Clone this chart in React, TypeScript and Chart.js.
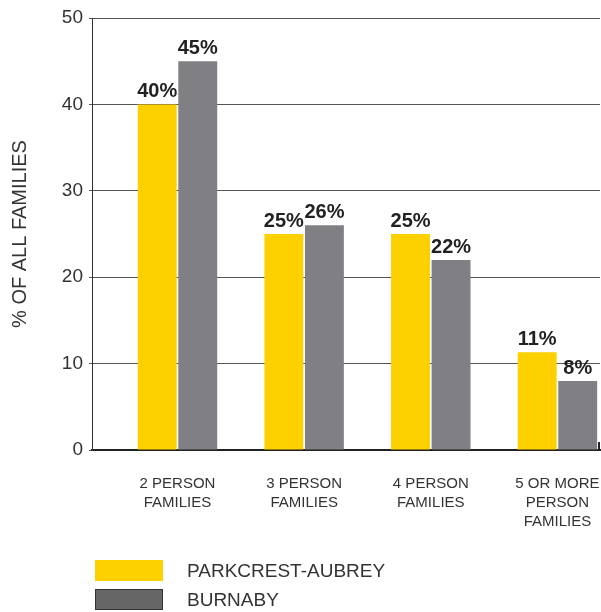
import { useEffect, useRef } from "react";
import { Chart, registerables } from "chart.js";

Chart.register(...registerables);

const categories = [
  ["2 PERSON", "FAMILIES"],
  ["3 PERSON", "FAMILIES"],
  ["4 PERSON", "FAMILIES"],
  ["5 OR MORE", "PERSON", "FAMILIES"],
];
const parkcrestValues = [40, 25, 25, 11.3];
const burnabyValues = [45, 26, 22, 8];
const yTicks = [0, 10, 20, 30, 40, 50];

const seriesNames = ["PARKCREST-AUBREY", "BURNABY"];
const seriesColors = ["#fdd000", "#808084"];
const legendColors = ["#fdd000", "#666666"];
const legendBorders = ["#fdd000", "#333333"];

const FONT = '"Liberation Sans", Arial, Helvetica, sans-serif';

const valueLabels = {
  id: "valueLabels",
  afterDatasetsDraw(chart: Chart) {
    const ctx = chart.ctx;
    ctx.save();
    ctx.font = `bold 20px ${FONT}`;
    ctx.fillStyle = "#222222";
    ctx.textAlign = "center";
    ctx.textBaseline = "alphabetic";
    chart.data.datasets.forEach((ds, i) => {
      const meta = chart.getDatasetMeta(i);
      meta.data.forEach((bar: any, j) => {
        const point = ds.data[j] as any;
        ctx.fillText(`${Math.round(point.y)}%`, bar.x, bar.y - 7);
      });
    });
    // little end tick on the right of the base line
    const { right, bottom } = chart.chartArea;
    ctx.strokeStyle = "#222222";
    ctx.lineWidth = 2;
    ctx.beginPath();
    ctx.moveTo(right - 1, bottom - 8);
    ctx.lineTo(right - 1, bottom + 1);
    ctx.stroke();
    ctx.restore();
  },
};

function FamilyChart() {
  const chartRef = useRef<HTMLCanvasElement | null>(null);
  const chartInstance = useRef<Chart | null>(null);

  useEffect(() => {
    if (!chartRef.current) return;
    const ctx = chartRef.current.getContext("2d");
    if (!ctx) return;

    if (chartInstance.current) {
      chartInstance.current.destroy();
    }

    const toPoints = (values: number[]) =>
      values.map((v, i) => ({ x: i, y: v }));

    chartInstance.current = new Chart(ctx, {
      type: "bar",
      data: {
        datasets: [
          {
            label: seriesNames[0],
            data: toPoints(parkcrestValues),
            backgroundColor: seriesColors[0],
            categoryPercentage: 0.64,
            barPercentage: 0.96,
          },
          {
            label: seriesNames[1],
            data: toPoints(burnabyValues),
            backgroundColor: seriesColors[1],
            categoryPercentage: 0.64,
            barPercentage: 0.96,
          },
        ],
      },
      options: {
        animation: false,
        responsive: false,
        layout: { padding: { top: 18, right: 1, bottom: 62, left: 0 } },
        plugins: {
          legend: { display: false },
          tooltip: { enabled: false },
        },
        scales: {
          x: {
            type: "linear",
            min: -0.675,
            max: 3.336,
            offset: false,
            grid: { display: false, drawTicks: false, offset: false },
            border: { display: true, color: "#222222", width: 2 },
            afterFit: (scale: any) => {
              scale.height = 100;
              scale.paddingLeft = 0;
              scale.paddingRight = 0;
            },
            afterBuildTicks: (scale: any) => {
              scale.ticks = categories.map((_, i) => ({ value: i }));
            },
            ticks: {
              padding: 24,
              autoSkip: false,
              maxRotation: 0,
              color: "#333333",
              font: { family: FONT, size: 15, lineHeight: 1.27 },
              callback: (value: any) => categories[value as number] ?? "",
            },
          },
          y: {
            min: 0,
            max: 50,
            afterFit: (scale: any) => {
              scale.width = 92;
            },
            afterBuildTicks: (scale: any) => {
              scale.ticks = yTicks.map((v) => ({ value: v }));
            },
            grid: { color: "#555555", lineWidth: 1, tickLength: 3 },
            border: { display: true, color: "#333333", width: 1 },
            ticks: {
              padding: 6,
              color: "#333333",
              font: { family: FONT, size: 19 },
            },
            title: {
              display: true,
              text: "% OF ALL FAMILIES",
              color: "#333333",
              font: { family: FONT, size: 20 },
              padding: { top: 8, bottom: 0 },
            },
          },
        },
      },
      plugins: [valueLabels],
    });

    return () => {
      if (chartInstance.current) {
        chartInstance.current.destroy();
        chartInstance.current = null;
      }
    };
  }, []);

  return <canvas ref={chartRef} width={601} height={612} />;
}

export default function App() {
  return (
    <div
      style={{
        position: "absolute",
        left: 0,
        top: 0,
        width: 601,
        height: 612,
        background: "#ffffff",
      }}
    >
      <FamilyChart />
      {seriesNames.map((name, i) => (
        <div
          key={name}
          style={{
            position: "absolute",
            left: 95,
            top: 560 + i * 29,
            height: 21,
            display: "flex",
            alignItems: "center",
            fontFamily: FONT,
            fontSize: 19,
            color: "#333333",
            whiteSpace: "nowrap",
          }}
        >
          <span
            style={{
              display: "inline-block",
              width: 68,
              height: 21,
              boxSizing: "border-box",
              background: legendColors[i],
              border: `1px solid ${legendBorders[i]}`,
              marginRight: 24,
            }}
          />
          {name}
        </div>
      ))}
    </div>
  );
}
